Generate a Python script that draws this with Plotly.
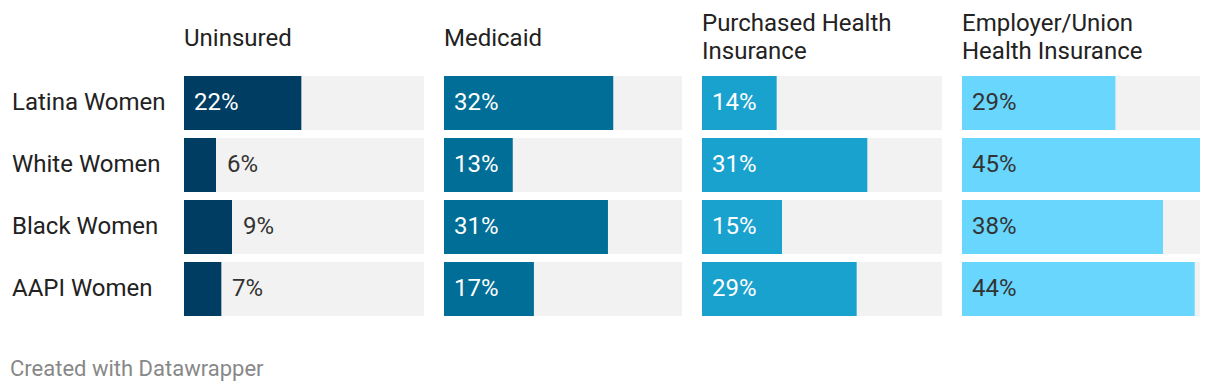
import plotly.graph_objects as go

groups = ["Latina Women", "White Women", "Black Women", "AAPI Women"]
panels = ["Uninsured", "Medicaid", "Purchased Health<br>Insurance", "Employer/Union<br>Health Insurance"]
uninsured = [22, 6, 9, 7]
medicaid = [32, 13, 31, 17]
purchased = [14, 31, 15, 29]
employer = [29, 45, 38, 44]
series = [uninsured, medicaid, purchased, employer]
colors = ["#003d62", "#006e96", "#1aa2cf", "#68d6fd"]
text_inside = ["#ffffff", "#ffffff", "#ffffff", "#333333"]
xmax = 45

# page has an 8px body margin
OFF = 8
W, H = 1220 - OFF, 392 - OFF


def px(x):
    return (x - OFF) / W


def py(y):
    return 1 - (y - OFF) / H


panel_px = [(184, 424), (444, 682), (702, 942), (962, 1200)]
ytop, ybot = 72, 320

fig = go.Figure()
FONT = "Roboto"
FS = 24
for i, vals in enumerate(series):
    ax = "" if i == 0 else str(i + 1)
    fig.add_trace(go.Bar(y=groups, x=[xmax] * len(groups), orientation="h",
                         marker=dict(color="#f2f2f2", line=dict(width=0)),
                         xaxis="x" + ax, yaxis="y" + ax, hoverinfo="skip", showlegend=False))
    fig.add_trace(go.Bar(y=groups, x=vals, orientation="h",
                         marker=dict(color=colors[i], line=dict(width=0)),
                         xaxis="x" + ax, yaxis="y" + ax, hoverinfo="skip", showlegend=False))
    x0, x1 = panel_px[i]
    fig.update_layout({
        "xaxis" + ax: dict(domain=[px(x0), px(x1)], range=[0, xmax], visible=False, fixedrange=True),
        "yaxis" + ax: dict(domain=[py(ybot), py(ytop)], categoryorder="array",
                           categoryarray=groups, autorange="reversed", visible=False,
                           anchor="x" + ax, fixedrange=True),
    })
    for g, v in zip(groups, vals):
        inside = v >= 10
        fig.add_annotation(xref="x" + ax, yref="y" + ax, x=0 if inside else v, y=g,
                           text=f"{v}%", showarrow=False, xanchor="left", xshift=8 if inside else 9,
                           yshift=1,
                           font=dict(family=FONT, size=FS, color=text_inside[i] if inside else "#333333"))
    lines = panels[i].split("<br>")
    ys = [38] if len(lines) == 1 else [23, 51]
    for line, yy in zip(lines, ys):
        fig.add_annotation(xref="paper", yref="paper", x=px(x0), y=py(yy), text=line,
                           showarrow=False, xanchor="left", yanchor="middle", xshift=-2,
                           font=dict(family=FONT, size=FS, color="#222222"))

for g in groups:
    fig.add_annotation(xref="paper", yref="y", x=px(12), y=g, text=g, showarrow=False,
                       xanchor="left", xshift=-2, yshift=1, font=dict(family=FONT, size=FS, color="#222222"))

fig.add_annotation(xref="paper", yref="paper", x=px(10), y=py(368), text="Created with Datawrapper",
                   showarrow=False, xanchor="left", yanchor="middle", xshift=-2,
                   font=dict(family=FONT, size=22, color="#888888"))

fig.update_layout(width=W, height=H, margin=dict(l=0, r=0, t=0, b=0),
                  barmode="overlay", bargap=8 / 62, plot_bgcolor="white", paper_bgcolor="white")
fig.write_html("out.html", config={"displayModeBar": False})
